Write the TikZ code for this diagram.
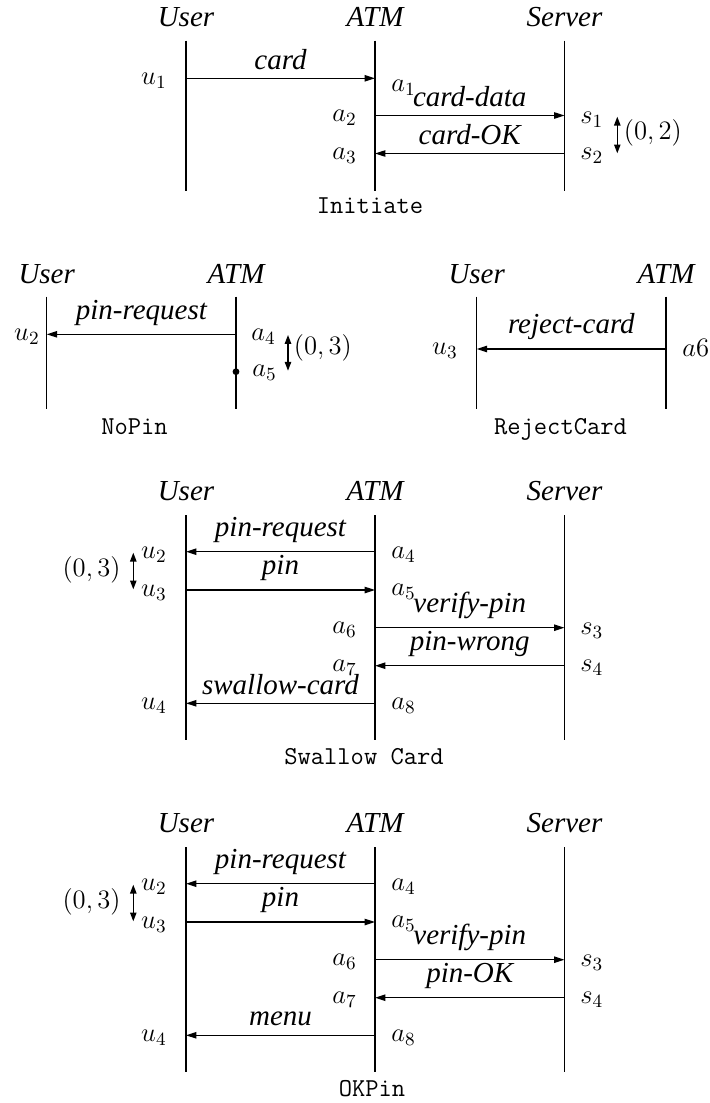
\documentclass[tikz,border=0pt]{standalone}
\usepackage{fix-cm}
\usepackage{fontspec}
\setmainfont{Liberation Serif}[ItalicFont={Liberation Serif Italic}]
\newfontfamily\timesit{Liberation Serif Italic}
\usetikzlibrary{arrows.meta}

\newcommand\actfont{\fontsize{14.5}{17}\selectfont\timesit}
\newcommand\tagfont{\fontsize{13.3}{16}\selectfont}
\newcommand\capfont{\fontsize{12.9}{15}\selectfont\ttfamily}

\tikzset{
  life/.style={line width=0.6pt},
  msg/.style={line width=0.6pt, -{Triangle[length=5.2pt,width=3.2pt]}},
  span/.style={line width=0.6pt,
    {Triangle[length=4.4pt,width=3.2pt]}-{Triangle[length=4.4pt,width=3.2pt]}},
  actor/.style={font=\actfont, anchor=base, inner sep=0pt},
  msglbl/.style={font=\actfont, above, inner sep=4.2pt},
  tag/.style={font=\tagfont, inner sep=0pt},
  tagL/.style={tag, anchor=east},
  tagR/.style={tag, anchor=west},
  caption/.style={font=\capfont, anchor=base, inner sep=0pt},
  dot/.style={circle, fill, inner sep=0pt, minimum size=3.4pt}
}

% PIN exchange between User, ATM and Server; #1 name prefix, #2 vertical offset,
% #3 server reply, #4 final message to the user, #5 caption, #6 caption x
\newcommand\pinrun[6]{%
  \node[actor] (#1User)   at (186,{#2+500.7})   {User};
  \node[actor] (#1ATM)    at (375,{#2+500.7})   {ATM};
  \node[actor] (#1Server) at (564.5,{#2+500.7}) {Server};
  \coordinate (#1U0) at (186,{#2+515});   \coordinate (#1U1) at (186,{#2+740});
  \coordinate (#1A0) at (375,{#2+515});   \coordinate (#1A1) at (375,{#2+740});
  \coordinate (#1S0) at (564.5,{#2+515}); \coordinate (#1S1) at (564.5,{#2+740});
  \draw[life] (#1U0) -- (#1U1);
  \draw[life] (#1A0) -- (#1A1);
  \draw[life] (#1S0) -- (#1S1);
  % message end points
  \coordinate (#1a4) at (375,{#2+551.7});   \coordinate (#1u2) at (186,{#2+551.7});
  \coordinate (#1u3) at (186,{#2+590});     \coordinate (#1a5) at (375,{#2+590});
  \coordinate (#1a6) at (375,{#2+627.7});   \coordinate (#1s3) at (564.5,{#2+627.7});
  \coordinate (#1s4) at (564.5,{#2+665.7}); \coordinate (#1a7) at (375,{#2+665.7});
  \coordinate (#1a8) at (375,{#2+703.3});   \coordinate (#1u4) at (186,{#2+703.3});
  \draw[msg] (#1a4) -- node[msglbl] {pin-request} (#1u2);
  \draw[msg] (#1u3) -- node[msglbl] {pin} (#1a5);
  \draw[msg] (#1a6) -- node[msglbl] {verify-pin} (#1s3);
  \draw[msg] (#1s4) -- node[msglbl] {#3} (#1a7);
  \draw[msg] (#1a8) -- node[msglbl] {#4} (#1u4);
  % event names
  \node[tagL] (#1tu2) at (167,{#2+555})   {$u_2$};
  \node[tagL] (#1tu3) at (167,{#2+593})   {$u_3$};
  \node[tagL] (#1tu4) at (167,{#2+706})   {$u_4$};
  \node[tagR] (#1ta4) at (391,{#2+555})   {$a_4$};
  \node[tagR] (#1ta5) at (391,{#2+592})   {$a_5$};
  \node[tagL] (#1ta6) at (357,{#2+630})   {$a_6$};
  \node[tagL] (#1ta7) at (357,{#2+667.5}) {$a_7$};
  \node[tagR] (#1ta8) at (391,{#2+706})   {$a_8$};
  \node[tagR] (#1ts3) at (580,{#2+630.5}) {$s_3$};
  \node[tagR] (#1ts4) at (580,{#2+668})   {$s_4$};
  % time bound between u2 and u3
  \coordinate (#1w0) at (133.3,{#2+552.7}); \coordinate (#1w1) at (133.3,{#2+589.3});
  \draw[span] (#1w0) -- (#1w1);
  \node[tagL] (#1win) at (121,{#2+570}) {$(0,3)$};
  \node[caption] (#1Cap) at (#6,{#2+764}) {#5};
}

\begin{document}
\begin{tikzpicture}[x=0.5pt,y=-0.5pt]
  \fill[white] (0,0) rectangle (710,1103);
  \useasboundingbox (0,0) rectangle (710,1103);

  % ---------- Initiate ----------
  \node[actor] (iUser)   at (186,26.7)   {User};
  \node[actor] (iATM)    at (375,26.7)   {ATM};
  \node[actor] (iServer) at (564.5,26.7) {Server};
  \coordinate (iU0) at (186,40.7);   \coordinate (iU1) at (186,191);
  \coordinate (iA0) at (375,40.7);   \coordinate (iA1) at (375,191);
  \coordinate (iS0) at (564.5,40.7); \coordinate (iS1) at (564.5,191);
  \draw[life] (iU0) -- (iU1);
  \draw[life] (iA0) -- (iA1);
  \draw[life] (iS0) -- (iS1);
  \coordinate (iu1) at (186,78.3);    \coordinate (ia1) at (375,78.3);
  \coordinate (ia2) at (375,115.5);   \coordinate (is1) at (564.5,115.5);
  \coordinate (is2) at (564.5,153.5); \coordinate (ia3) at (375,153.5);
  \draw[msg] (iu1) -- node[msglbl] {card} (ia1);
  \draw[msg] (ia2) -- node[msglbl] {card-data} (is1);
  \draw[msg] (is2) -- node[msglbl] {card-OK} (ia3);
  \node[tagL] (itu1) at (167,81)  {$u_1$};
  \node[tagR] (ita1) at (391,88)  {$a_1$};
  \node[tagL] (ita2) at (357,118) {$a_2$};
  \node[tagR] (its1) at (580,120) {$s_1$};
  \node[tagL] (ita3) at (357,156) {$a_3$};
  \node[tagR] (its2) at (580,156) {$s_2$};
  \coordinate (iw0) at (617.3,116.7); \coordinate (iw1) at (617.3,153.3);
  \draw[span] (iw0) -- (iw1);
  \node[tagR] (iwin) at (623.5,133) {$(0,2)$};
  \node[caption] (iCap) at (370,213.3) {Initiate};

  % ---------- NoPin ----------
  \node[actor] (nUser) at (46.7,283) {User};
  \node[actor] (nATM)  at (236,283)  {ATM};
  \coordinate (nU0) at (46.7,296.7); \coordinate (nU1) at (46.7,409);
  \coordinate (nA0) at (236,296.7);  \coordinate (nA1) at (236,409);
  \draw[life] (nU0) -- (nU1);
  \draw[life] (nA0) -- (nA1);
  \coordinate (na4) at (236,334.3); \coordinate (nu2) at (46.7,334.3);
  \draw[msg] (na4) -- node[msglbl] {pin-request} (nu2);
  \node[dot] (na5) at (236,371.7) {};
  \node[tagL] (ntu2) at (40,337)  {$u_2$};
  \node[tagR] (nta4) at (251,337) {$a_4$};
  \node[tagR] (nta5) at (252,373) {$a_5$};
  \coordinate (nw0) at (288,335); \coordinate (nw1) at (288,370.7);
  \draw[span] (nw0) -- (nw1);
  \node[tagR] (nwin) at (293.5,348) {$(0,3)$};
  \node[caption] (nCap) at (134.5,434) {NoPin};

  % ---------- RejectCard ----------
  \node[actor] (rUser) at (476.7,283) {User};
  \node[actor] (rATM)  at (666,283)   {ATM};
  \coordinate (rU0) at (476.7,296.7); \coordinate (rU1) at (476.7,409);
  \coordinate (rA0) at (666,296.7);   \coordinate (rA1) at (666,409);
  \draw[life] (rU0) -- (rU1);
  \draw[life] (rA0) -- (rA1);
  \coordinate (ra6) at (666,349); \coordinate (ru3) at (476.7,349);
  \draw[msg] (ra6) -- node[msglbl] {reject-card} (ru3);
  \node[tagL] (rtu3) at (458,351) {$u_3$};
  \node[tagR] (rta6) at (682,348) {$a6$};
  \node[caption] (rCap) at (560.5,434) {RejectCard};

  % ---------- Swallow Card and OKPin ----------
  \pinrun{s}{0}{pin-wrong}{swallow-card}{Swallow Card}{364}
  \pinrun{o}{332}{pin-OK}{menu}{OKPin}{372}
\end{tikzpicture}
\end{document}
